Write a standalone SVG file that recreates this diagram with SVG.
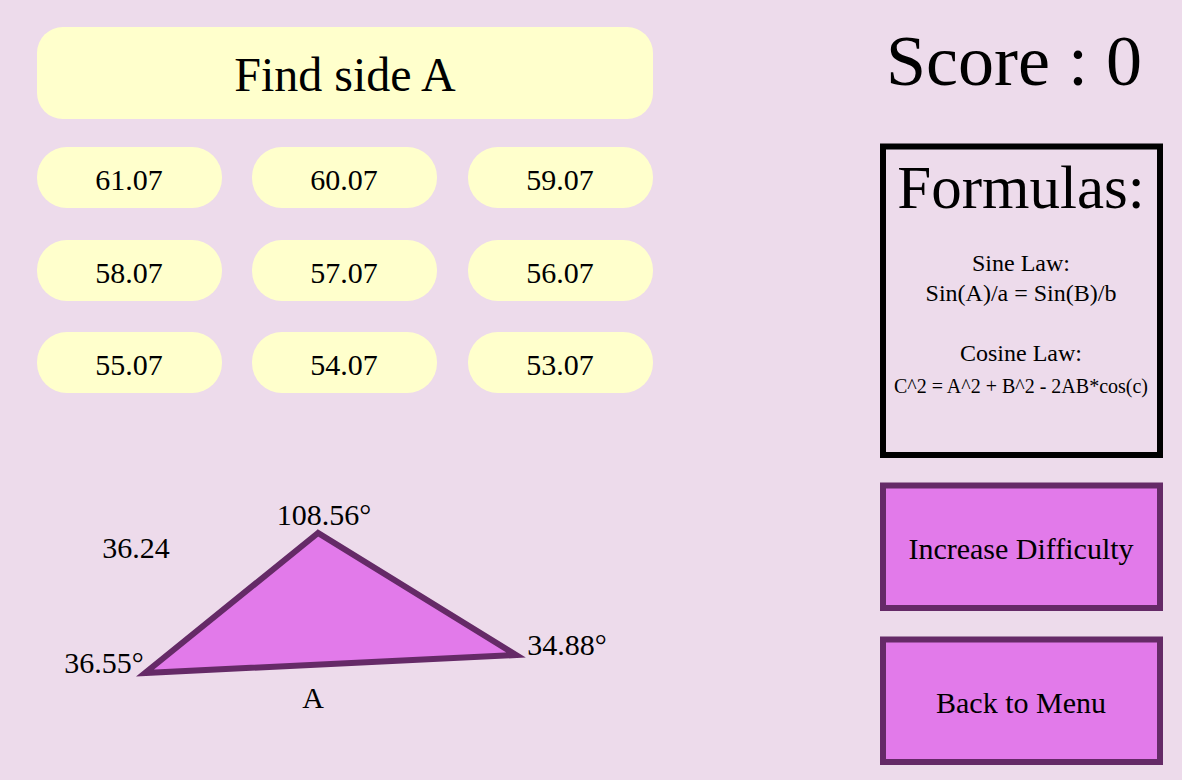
<svg xmlns="http://www.w3.org/2000/svg" width="1182" height="780" viewBox="0 0 1182 780">
<style>
text{font-family:"Liberation Serif","Times New Roman",serif;fill:#000;text-anchor:middle}
.ans rect{fill:#FFFFCC}
.ans text{font-size:30px}
.btn rect{fill:#E27AEA;stroke:#652A67;stroke-width:6}
.btn text{font-size:30px}
.lbl{font-size:30px}
</style>
<rect x="0" y="0" width="1182" height="780" fill="#EDDBEB"/>
<g id="title"><rect x="37" y="27" width="616" height="92" rx="26" fill="#FFFFCC"/><text x="345" y="91" font-size="48">Find side A</text></g>
<g id="a1" class="ans"><rect x="37" y="147" width="185" height="61" rx="30"/><text x="129" y="190">61.07</text></g>
<g id="a2" class="ans"><rect x="252" y="147" width="185" height="61" rx="30"/><text x="344" y="190">60.07</text></g>
<g id="a3" class="ans"><rect x="468" y="147" width="185" height="61" rx="30"/><text x="560" y="190">59.07</text></g>
<g id="a4" class="ans"><rect x="37" y="240" width="185" height="61" rx="30"/><text x="129" y="283">58.07</text></g>
<g id="a5" class="ans"><rect x="252" y="240" width="185" height="61" rx="30"/><text x="344" y="283">57.07</text></g>
<g id="a6" class="ans"><rect x="468" y="240" width="185" height="61" rx="30"/><text x="560" y="283">56.07</text></g>
<g id="a7" class="ans"><rect x="37" y="332" width="185" height="61" rx="30"/><text x="129" y="375">55.07</text></g>
<g id="a8" class="ans"><rect x="252" y="332" width="185" height="61" rx="30"/><text x="344" y="375">54.07</text></g>
<g id="a9" class="ans"><rect x="468" y="332" width="185" height="61" rx="30"/><text x="560" y="375">53.07</text></g>
<g id="score"><text x="1014" y="85" font-size="72">Score : 0</text></g>
<g id="formulas">
<rect x="883" y="146.5" width="277" height="308.5" fill="none" stroke="#000" stroke-width="6"/>
<text x="1021" y="208" font-size="61">Formulas:</text>
<text x="1021" y="271" font-size="24">Sine Law:</text>
<text x="1021" y="301" font-size="24">Sin(A)/a = Sin(B)/b</text>
<text x="1021" y="361" font-size="24">Cosine Law:</text>
<text x="1021" y="393" font-size="20">C^2 = A^2 + B^2 - 2AB*cos(c)</text>
</g>
<g id="increase" class="btn"><rect x="883" y="485.5" width="277" height="122.5"/><text x="1021" y="559">Increase Difficulty</text></g>
<g id="menu" class="btn"><rect x="883" y="639.5" width="277" height="122.5"/><text x="1021" y="713">Back to Menu</text></g>
<g id="triangle">
<polygon points="318,533 145,673 516,655" fill="#E27AEA" stroke="#652A67" stroke-width="6" stroke-linejoin="miter"/>
<text class="lbl" x="324" y="525">108.56°</text>
<text class="lbl" x="136" y="558">36.24</text>
<text class="lbl" x="104" y="673">36.55°</text>
<text class="lbl" x="567" y="655">34.88°</text>
<text class="lbl" x="313" y="708">A</text>
</g>
</svg>
